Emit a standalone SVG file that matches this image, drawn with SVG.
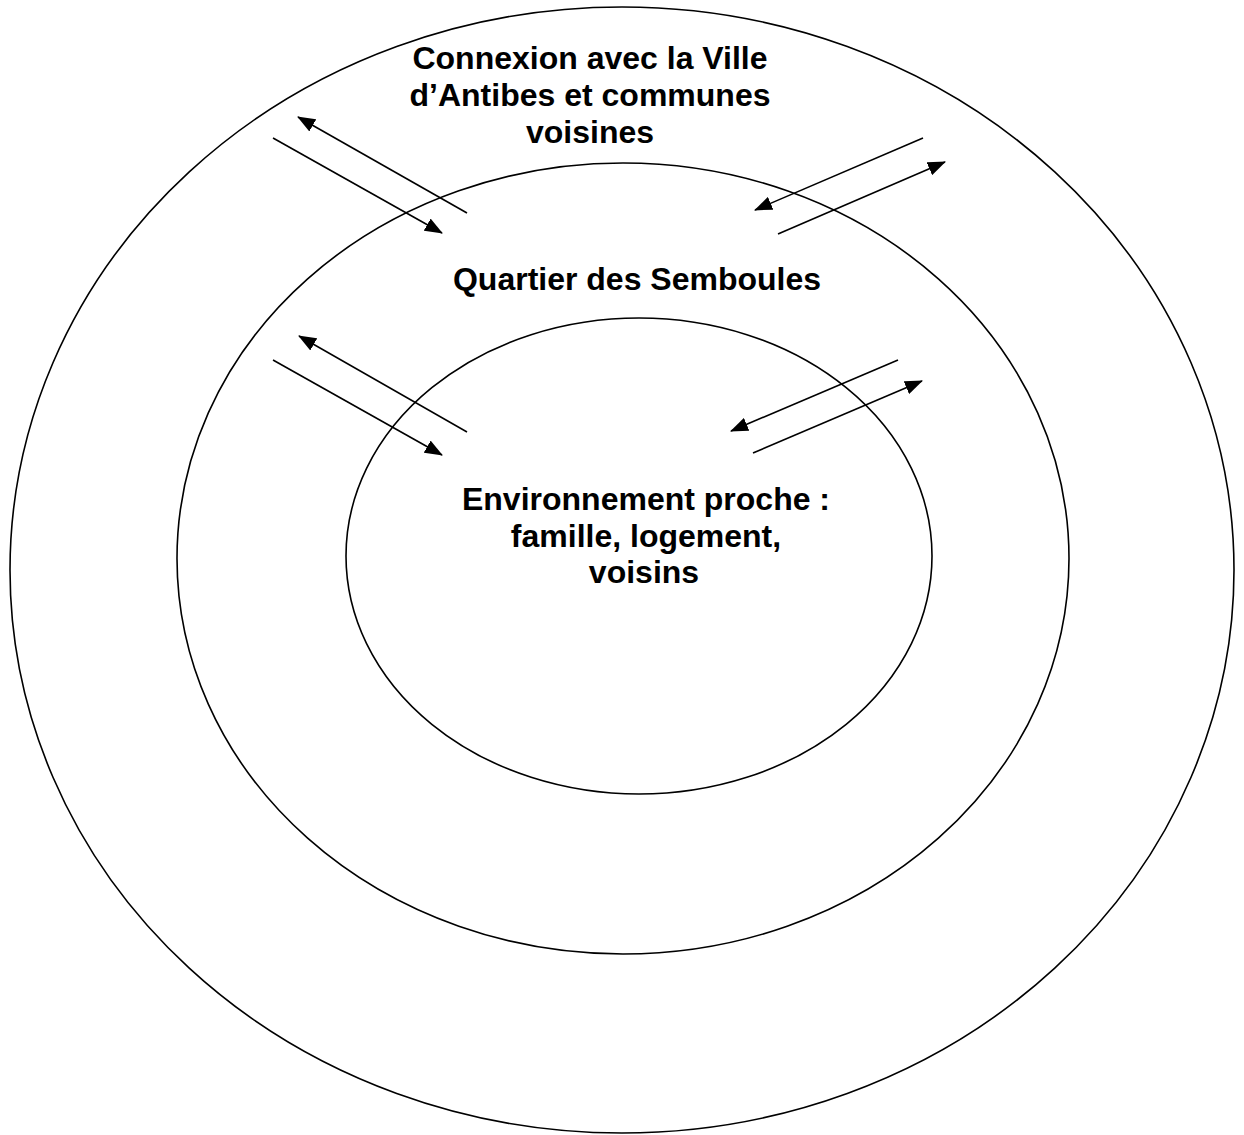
<svg xmlns="http://www.w3.org/2000/svg" width="1244" height="1135" viewBox="0 0 1244 1135">
<style>
.ring{fill:none;stroke:#000;stroke-width:1.6}
.lbl{font-family:"Liberation Sans",Arial,sans-serif;font-weight:bold;font-size:32px;fill:#000;text-anchor:middle}
.arr{stroke:#000;stroke-width:1.6;fill:none}
</style>
<defs>
<marker id="ah" markerUnits="userSpaceOnUse" markerWidth="18" markerHeight="14" viewBox="0 0 18 14" refX="17" refY="7" orient="auto">
<path d="M0,0 L18,7 L0,14 Z" fill="#000"/>
</marker>
</defs>
<rect width="1244" height="1135" fill="#fff"/>
<g id="outer">
<ellipse class="ring" cx="622" cy="570" rx="612" ry="563"/>
<text class="lbl" x="590" y="69">Connexion avec la Ville</text>
<text class="lbl" x="590" y="106">d’Antibes et communes</text>
<text class="lbl" x="590" y="143">voisines</text>
</g>
<g id="middle">
<ellipse class="ring" cx="623" cy="558.5" rx="446" ry="395.5"/>
<text class="lbl" x="637" y="290">Quartier des Semboules</text>
</g>
<g id="inner">
<ellipse class="ring" cx="639" cy="556" rx="293" ry="238"/>
<text class="lbl" x="646" y="510">Environnement proche :</text>
<text class="lbl" x="646" y="547">famille, logement,</text>
<text class="lbl" x="644" y="583">voisins</text>
</g>
<g id="connectors">
<line class="arr" x1="467" y1="213" x2="298" y2="117" marker-end="url(#ah)"/>
<line class="arr" x1="273" y1="138" x2="442" y2="233" marker-end="url(#ah)"/>
<line class="arr" x1="923" y1="138" x2="755" y2="210" marker-end="url(#ah)"/>
<line class="arr" x1="778" y1="234" x2="945" y2="162" marker-end="url(#ah)"/>
<line class="arr" x1="467" y1="432" x2="299" y2="336" marker-end="url(#ah)"/>
<line class="arr" x1="273" y1="360" x2="442" y2="455" marker-end="url(#ah)"/>
<line class="arr" x1="898" y1="360" x2="731" y2="431" marker-end="url(#ah)"/>
<line class="arr" x1="753" y1="453" x2="922" y2="381" marker-end="url(#ah)"/>
</g>
</svg>
